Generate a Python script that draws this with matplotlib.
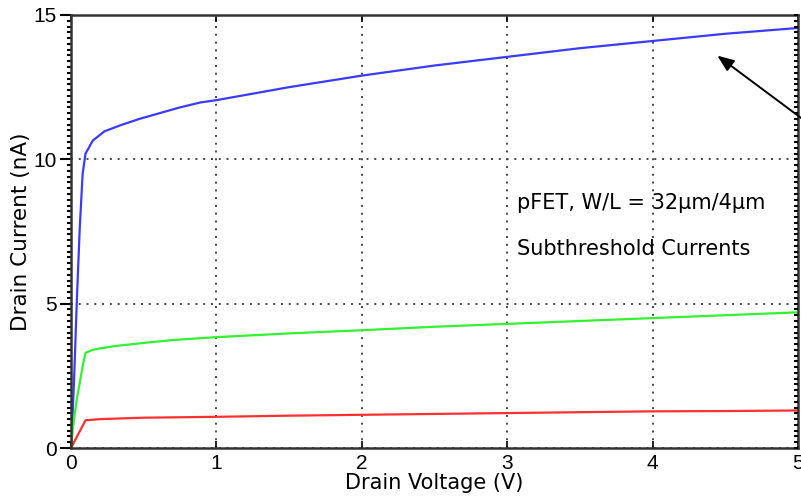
import matplotlib
matplotlib.use("Agg")
import matplotlib.pyplot as plt
from matplotlib.ticker import MultipleLocator, NullLocator

plt.rcParams['font.family'] = ['Liberation Sans', 'DejaVu Sans']

# Drain voltage samples (V)
vd_blue = [0, 0.02, 0.04, 0.06, 0.08, 0.1, 0.15, 0.23, 0.34, 0.47, 0.61, 0.75, 0.89, 1.0, 1.5, 2.0, 2.5, 3.0, 3.5, 4.0, 4.5, 5.0]
id_blue = [0, 2.2, 5.1, 7.6, 9.5, 10.2, 10.65, 10.97, 11.18, 11.4, 11.6, 11.8, 11.97, 12.05, 12.5, 12.9, 13.25, 13.55, 13.85, 14.1, 14.35, 14.55]

vd_green = [0, 0.014, 0.04, 0.06, 0.083, 0.1, 0.15, 0.2, 0.3, 0.5, 0.7, 1.0, 1.5, 2.0, 2.5, 3.0, 3.5, 4.0, 4.5, 5.0]
id_green = [0, 0.73, 1.7, 2.25, 2.9, 3.3, 3.4, 3.45, 3.53, 3.64, 3.74, 3.84, 3.97, 4.08, 4.2, 4.3, 4.4, 4.5, 4.6, 4.7]

vd_red = [0, 0.1, 0.2, 0.5, 1.0, 1.5, 2.0, 2.5, 3.0, 3.5, 4.0, 4.5, 5.0]
id_red = [0, 0.96, 1.0, 1.05, 1.08, 1.12, 1.15, 1.18, 1.21, 1.24, 1.27, 1.28, 1.3]

x_ticks = [0, 1, 2, 3, 4, 5]
y_ticks = [0, 5, 10, 15]

fig = plt.figure(figsize=(8.01, 4.99), dpi=100)
ax = fig.add_axes([71/801, 51/499, 727/801, 433/499])

ax.plot(vd_blue, id_blue, color='#3b3bff', lw=1.6)
ax.plot(vd_green, id_green, color='#33f033', lw=1.6)
ax.plot(vd_red, id_red, color='#ff3030', lw=1.6)

ax.set_xlim(0, 5)
ax.set_ylim(0, 15)
ax.set_xticks(x_ticks)
ax.set_yticks(y_ticks)
ax.yaxis.set_minor_locator(MultipleLocator(0.2))

ax.grid(True, which='major', color='#444444', linestyle=(0, (1, 3)), linewidth=1.4)

ax.tick_params(axis='x', which='major', direction='in', length=5, width=1.2,
               top=True, bottom=True, labelsize=15, pad=4)
ax.tick_params(axis='y', which='major', direction='out', length=8, width=1.5,
               left=True, right=False, labelsize=15, pad=2)
ax.tick_params(axis='y', which='minor', direction='out', length=3, width=1.5,
               left=True, right=False)

# right-side inward minor ticks
ax2 = ax.twinx()
ax2.set_ylim(0, 15)
ax2.yaxis.set_major_locator(NullLocator())
ax2.yaxis.set_minor_locator(MultipleLocator(0.2))
ax2.tick_params(axis='y', which='minor', direction='in', length=3, width=1.5, right=True)
ax2.spines[:].set_visible(False)

for s in ax.spines.values():
    s.set_linewidth(1.8)
    s.set_color('#333333')

ax.set_xlabel('Drain Voltage (V)', fontsize=15, family='DejaVu Sans', labelpad=0)
ax.set_ylabel('Drain Current (nA)', fontsize=15.5, family='DejaVu Sans', labelpad=2)

ax.text(3.07, 8.5, 'pFET, W/L = 32\u00b5m/4\u00b5m', fontsize=15, family='DejaVu Sans',
        va='center', ha='left')
ax.text(3.07, 6.9, 'Subthreshold Currents', fontsize=15, family='DejaVu Sans',
        va='center', ha='left')

ax.annotate('', xy=(4.43, 13.65), xytext=(5.15, 10.95),
            arrowprops=dict(arrowstyle='-|>,head_length=1.0,head_width=0.4', color='black', lw=1.4),
            annotation_clip=False)

fig.savefig('out.png', dpi=100)
